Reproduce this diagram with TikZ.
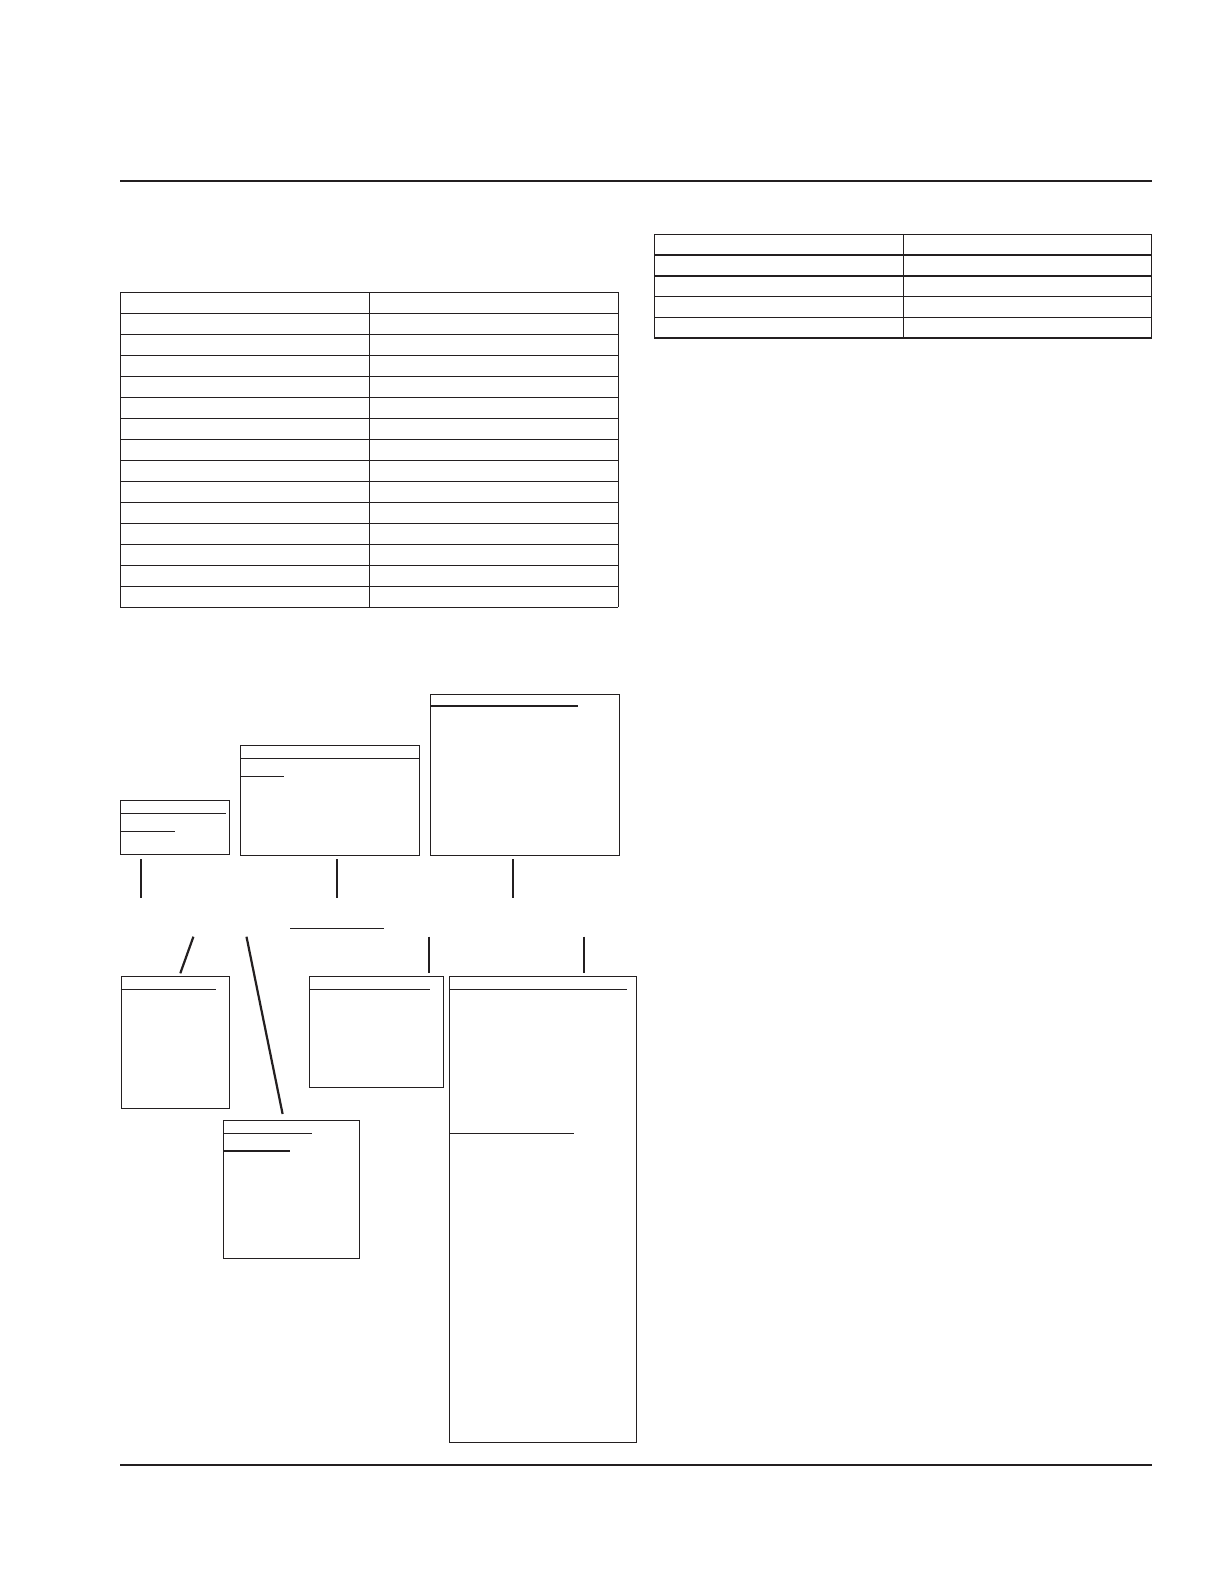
\documentclass[tikz,border=0pt]{standalone}
\definecolor{ink}{HTML}{231F20}
\begin{document}
\begin{tikzpicture}[x=1pt,y=-1pt,
  rule/.style={draw=ink,line width=1.8pt},
  grid/.style={draw=ink,line width=1.4pt},
  box/.style={draw=ink,line width=1.0pt,rectangle,inner sep=0pt,anchor=north west},
  sub/.style={draw=ink,line width=1.1pt},
  conn/.style={draw=ink,line width=2.2pt}]
\useasboundingbox (0,0) rectangle (1224,1584);
% page rules
\coordinate (tl) at (120,181); \coordinate (tr) at (1152,181);
\coordinate (bl) at (120,1465); \coordinate (br) at (1152,1465);
\draw[rule] (tl) -- (tr);
\draw[rule] (bl) -- (br);
% left table
\foreach \k in {0,...,15} {\draw[grid] (120.3,292.3+21*\k) -- (618.3,292.3+21*\k);}
\draw[grid] (120.3,292.3) -- (120.3,607.3);
\draw[grid] (369.3,292.3) -- (369.3,607.3);
\draw[grid] (618.3,292.3) -- (618.3,607.3);
% right table
\foreach \k in {0,...,5} {\draw[grid] (654.3,234.3+20.75*\k) -- (1151.5,234.3+20.75*\k);}
\draw[grid] (654.3,234.3) -- (654.3,338);
\draw[grid] (903.3,234.3) -- (903.3,338);
\draw[grid] (1151.5,234.3) -- (1151.5,338);
% upper boxes
\node[box,minimum width=109pt,minimum height=54pt] (A) at (120.3,800.3) {};
\node[box,minimum width=178.4pt,minimum height=110pt] (B) at (240.3,745.3) {};
\node[box,minimum width=189pt,minimum height=161pt] (C) at (430.3,694.3) {};
\draw[sub] (120.3,813.3) -- (225.7,813.3);
\draw[sub] (120.3,831.3) -- (174.7,831.3);
\draw[sub] (240.3,758.3) -- (418.7,758.3);
\draw[sub] (240.3,776.3) -- (284,776.3);
\draw[sub] (430.3,706) -- (578,706);
% lower boxes
\node[box,minimum width=108.1pt,minimum height=132pt] (D) at (120.5,976.3) {};
\node[box,minimum width=135.4pt,minimum height=138pt] (E) at (223.2,1120.3) {};
\node[box,minimum width=134.1pt,minimum height=111pt] (F) at (309.3,976.3) {};
\node[box,minimum width=186.8pt,minimum height=466pt] (G) at (449.2,976.3) {};
\draw[sub] (120.5,989.3) -- (216.1,989.3);
\draw[sub] (223.2,1133.3) -- (312,1133.3);
\draw[sub] (223.2,1151) -- (290.1,1151);
\draw[sub] (309.3,989.3) -- (429.6,989.3);
\draw[sub] (449.2,989.3) -- (627.2,989.3);
\draw[sub] (449.2,1133.3) -- (574,1133.3);
% middle short rule
\coordinate (m1) at (290.1,928.3); \coordinate (m2) at (383.6,928.3);
\draw[sub] (m1) -- (m2);
% connectors
\coordinate (a1) at (141,859); \coordinate (a2) at (141,897.7);
\coordinate (b1) at (337,859); \coordinate (b2) at (337,897.7);
\coordinate (c1) at (513,859); \coordinate (c2) at (513,897.7);
\draw[conn] (a1) -- (a2);
\draw[conn] (b1) -- (b2);
\draw[conn] (c1) -- (c2);
\coordinate (d1) at (193.4,936.7); \coordinate (d2) at (180.3,973.3);
\coordinate (e1) at (246.5,936.7); \coordinate (e2) at (282.6,1114);
\coordinate (f1) at (428.9,936.7); \coordinate (f2) at (428.9,973.3);
\coordinate (g1) at (583.6,936.7); \coordinate (g2) at (583.6,973.3);
\draw[conn] (d1) -- (d2);
\draw[conn] (e1) -- (e2);
\draw[conn] (f1) -- (f2);
\draw[conn] (g1) -- (g2);
\end{tikzpicture}
\end{document}
